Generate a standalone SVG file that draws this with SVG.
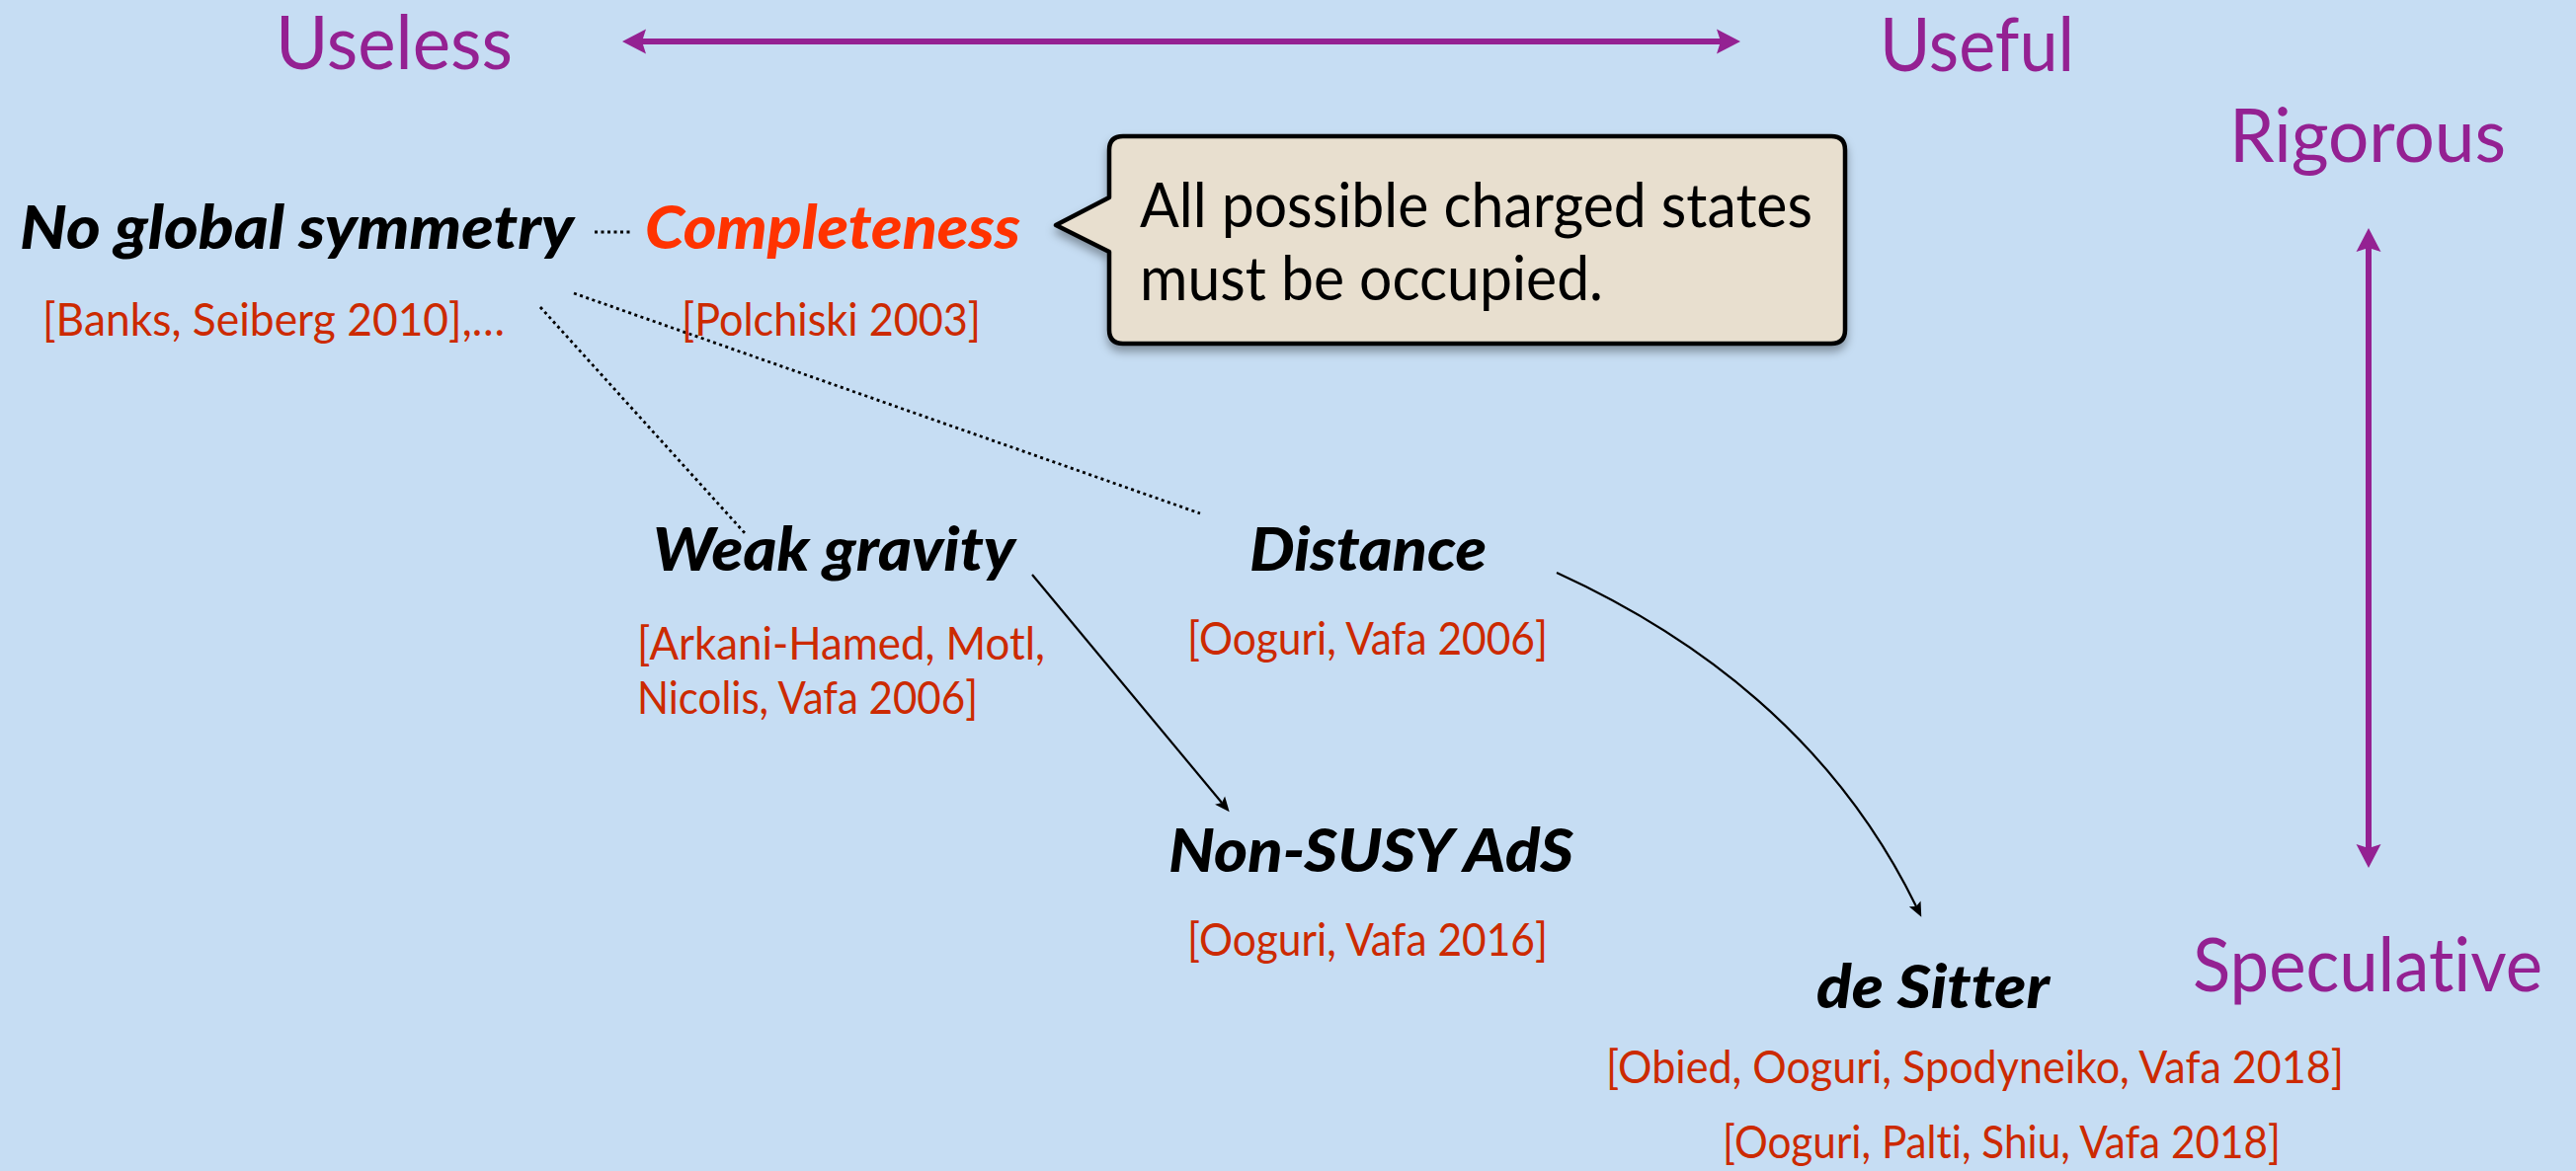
<svg xmlns="http://www.w3.org/2000/svg" width="2608" height="1186" viewBox="0 0 2608 1186">
<style>
text{font-variant-ligatures:none;font-feature-settings:"liga" 0,"dlig" 0}
.axis{font-family:Lato,"Open Sans","Liberation Sans",sans-serif;font-size:76px;fill:#942192}
.node{font-family:Lato,"Open Sans","Liberation Sans",sans-serif;font-size:60px;font-weight:900;font-style:italic;fill:#000}
.ref{font-family:Lato,"Open Sans","Liberation Sans",sans-serif;font-size:46px;fill:#CC2A00}
.note{font-family:Lato,"Open Sans","Liberation Sans",sans-serif;font-size:62px;fill:#000}
.dot{fill:none;stroke:#000;stroke-width:2.8;stroke-dasharray:3 3.5}
.conn{fill:none;stroke:#000;stroke-width:2.2}
.axisline{fill:none;stroke:#942192;stroke-width:6}
</style>
<defs>
<marker id="pa" viewBox="0 0 26 26" refX="4" refY="13" markerWidth="26" markerHeight="26" markerUnits="userSpaceOnUse" orient="auto-start-reverse">
<path d="M24,13 L0,0.5 L4,13 L0,25.5 Z" fill="#942192"/>
</marker>
<marker id="ba" viewBox="0 0 16 14" refX="3" refY="7" markerWidth="16" markerHeight="14" markerUnits="userSpaceOnUse" orient="auto">
<path d="M15,7 L0,0.5 L3,7 L0,13.5 Z" fill="#000"/>
</marker>
<filter id="sh" x="-10%" y="-10%" width="120%" height="130%">
<feDropShadow dx="0" dy="6" stdDeviation="5" flood-color="#000" flood-opacity="0.35"/>
</filter>
</defs>
<rect width="2608" height="1186" fill="#C6DDF3"/>

<g id="axes">
<text class="axis" x="279" y="70" textLength="240" lengthAdjust="spacingAndGlyphs">Useless</text>
<text class="axis" x="1903" y="72" textLength="197" lengthAdjust="spacingAndGlyphs">Useful</text>
<text class="axis" x="2257" y="164" textLength="280" lengthAdjust="spacingAndGlyphs">Rigorous</text>
<text class="axis" x="2220" y="1004" textLength="354" lengthAdjust="spacingAndGlyphs">Speculative</text>
<line class="axisline" x1="650" y1="42" x2="1742" y2="42" marker-start="url(#pa)" marker-end="url(#pa)"/>
<line class="axisline" x1="2398" y1="251" x2="2398" y2="859" marker-start="url(#pa)" marker-end="url(#pa)"/>
</g>

<g id="connectors">
<line class="dot" x1="602" y1="235" x2="639" y2="235"/>
<line class="dot" x1="547" y1="311" x2="755" y2="541"/>
<line class="dot" x1="581" y1="297" x2="1215" y2="520"/>
<line class="conn" x1="1045" y1="582" x2="1237" y2="813" marker-end="url(#ba)"/>
<path class="conn" d="M1576,580 Q1832,697 1940,918" marker-end="url(#ba)"/>
</g>

<g id="node-no-global-symmetry">
<text class="node" x="20" y="252" textLength="561" lengthAdjust="spacingAndGlyphs">No global symmetry</text>
<text class="ref" x="43" y="340" textLength="468" lengthAdjust="spacingAndGlyphs">[Banks, Seiberg 2010],…</text>
</g>

<g id="node-completeness">
<text class="node" x="653" y="252" textLength="380" lengthAdjust="spacingAndGlyphs" style="fill:#FF3300">Completeness</text>
<text class="ref" x="690" y="340" textLength="303" lengthAdjust="spacingAndGlyphs">[Polchiski 2003]</text>
</g>

<g id="callout">
<path d="M1137,138 H1854 Q1868,138 1868,152 V334 Q1868,348 1854,348 H1137 Q1123,348 1123,334 V255 L1069,228 L1123,200 V152 Q1123,138 1137,138 Z" fill="#E8DFCF" stroke="#000" stroke-width="4.5" stroke-linejoin="round" filter="url(#sh)"/>
<text class="note" x="1154" y="230" textLength="681" lengthAdjust="spacingAndGlyphs">All possible charged states</text>
<text class="note" x="1154" y="304" textLength="469" lengthAdjust="spacingAndGlyphs">must be occupied.</text>
</g>

<g id="node-weak-gravity">
<text class="node" x="661" y="578" textLength="367" lengthAdjust="spacingAndGlyphs">Weak gravity</text>
<text class="ref" x="645" y="668" textLength="413" lengthAdjust="spacingAndGlyphs">[Arkani-Hamed, Motl,</text>
<text class="ref" x="645" y="723" textLength="345" lengthAdjust="spacingAndGlyphs">Nicolis, Vafa 2006]</text>
</g>

<g id="node-distance">
<text class="node" x="1265" y="578" textLength="240" lengthAdjust="spacingAndGlyphs">Distance</text>
<text class="ref" x="1202" y="663" textLength="365" lengthAdjust="spacingAndGlyphs">[Ooguri, Vafa 2006]</text>
</g>

<g id="node-non-susy-ads">
<text class="node" x="1183" y="883" textLength="410" lengthAdjust="spacingAndGlyphs">Non-SUSY AdS</text>
<text class="ref" x="1202" y="968" textLength="365" lengthAdjust="spacingAndGlyphs">[Ooguri, Vafa 2016]</text>
</g>

<g id="node-de-sitter">
<text class="node" x="1839" y="1021" textLength="236" lengthAdjust="spacingAndGlyphs">de Sitter</text>
<text class="ref" x="1626" y="1097" textLength="747" lengthAdjust="spacingAndGlyphs">[Obied, Ooguri, Spodyneiko, Vafa 2018]</text>
<text class="ref" x="1744" y="1173" textLength="565" lengthAdjust="spacingAndGlyphs">[Ooguri, Palti, Shiu, Vafa 2018]</text>
</g>
</svg>
